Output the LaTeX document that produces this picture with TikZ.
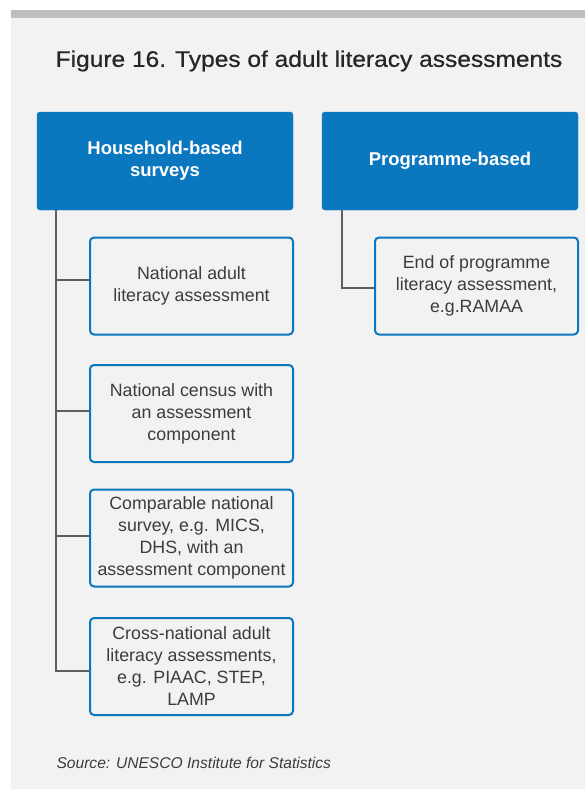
\documentclass[tikz,border=0pt]{standalone}
\usepackage{graphicx}
\usepackage{fontspec}
\setmainfont{Liberation Sans}
\definecolor{bg}{HTML}{F2F2F2}
\definecolor{bar}{HTML}{BCBEC0}
\definecolor{hblue}{HTML}{0A77BF}
\definecolor{txt}{HTML}{3C3C3C}
\definecolor{ttl}{HTML}{262626}
\definecolor{lgray}{HTML}{5E5E5E}
\tikzset{
  header/.style={draw=hblue, fill=hblue, rounded corners=3pt, minimum width=256pt, minimum height=98pt, inner sep=0pt, align=center, text=white, font=\fontsize{18.5}{22}\selectfont\bfseries},
  itembox/.style={draw=hblue, line width=2pt, fill=bg, rounded corners=4pt, minimum width=203pt, minimum height=97pt, inner sep=0pt, align=center, text=txt, font=\fontsize{17.8}{22}\selectfont},
  conn/.style={draw=lgray, line width=2.6pt}
}
\begin{document}
\begin{tikzpicture}[x=1pt,y=-1pt]
\useasboundingbox (0,0) rectangle (585,790);
\fill[white] (0,0) rectangle (585,790);
\fill[bg] (11,10) rectangle (585,789);
\fill[bar] (11,10) rectangle (585,18);
\node[text=ttl, font=\fontsize{22.5}{26}\selectfont\addfontfeature{FakeBold=0.6}] (title) at (309,61) {\scalebox{1.09}[1]{Figure 16. Types of adult literacy assessments}};
\node[header] (hh) at (165,161) {Household-based\\surveys};
\node[header] (pb) at (450,161) {Programme-based};
\node[itembox] (c1) at (191.5,286) {National adult\\literacy assessment};
\node[itembox] (c2) at (191.5,413.5) {National census with\\an assessment\\component};
\node[itembox] (c3) at (191.5,538) {Comparable national\\survey, e.g. MICS,\\DHS, with an\\assessment component};
\node[itembox] (c4) at (191.5,666.5) {Cross-national adult\\literacy assessments,\\e.g. PIAAC, STEP,\\LAMP};
\node[itembox] (r1) at (476.5,286) {End of programme\\literacy assessment,\\e.g.RAMAA};
\coordinate (s0) at ([xshift=19pt]hh.south west);
\coordinate (t0) at ([xshift=20pt]pb.south west);
\coordinate (k1) at ([yshift=6pt]c1.west);
\coordinate (k2) at ([yshift=2.5pt]c2.west);
\coordinate (k3) at ([yshift=2pt]c3.west);
\coordinate (k4) at ([yshift=-4.5pt]c4.west);
\coordinate (kr) at ([yshift=-2pt]r1.west);
\draw[conn] (s0) -- (s0 |- k4) -- (k4);
\draw[conn] (s0 |- k1) -- (k1);
\draw[conn] (s0 |- k2) -- (k2);
\draw[conn] (s0 |- k3) -- (k3);
\draw[conn] (t0) |- (kr);
\node[anchor=west, text=txt, font=\fontsize{15.6}{18}\selectfont\itshape] (src) at (53,763) {Source: UNESCO Institute for Statistics};
\end{tikzpicture}
\end{document}
